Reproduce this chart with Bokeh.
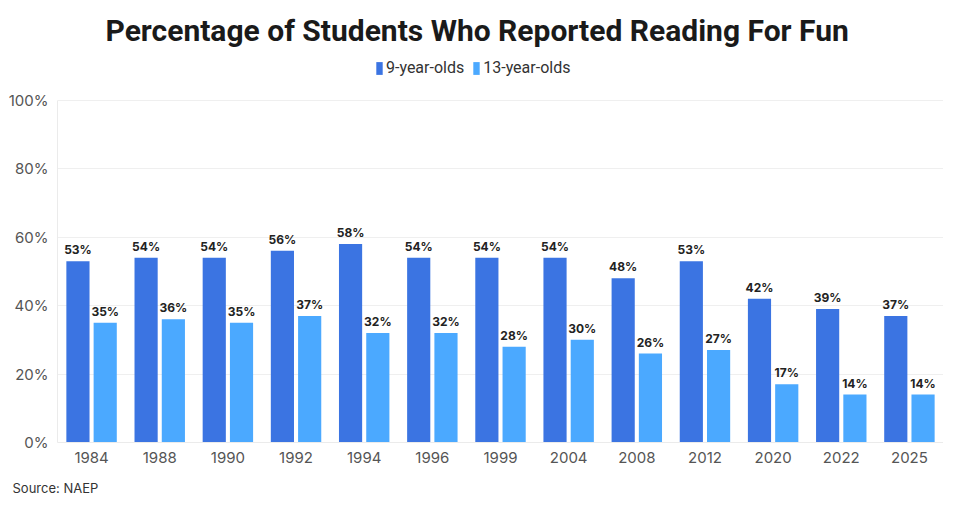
from bokeh.plotting import figure
from bokeh.models import ColumnDataSource, Legend, LegendItem, FactorRange, Range1d, NumeralTickFormatter, FixedTicker, Title
from bokeh.transform import dodge
from bokeh.core.properties import value
from bokeh.embed import file_html
from bokeh.resources import INLINE

years = ["1984", "1988", "1990", "1992", "1994", "1996", "1999", "2004", "2008", "2012", "2020", "2022", "2025"]
age9 = [53, 54, 54, 56, 58, 54, 54, 54, 48, 53, 42, 39, 37]
age13 = [35, 36, 35, 37, 32, 32, 28, 30, 26, 27, 17, 14, 14]
y_ticks = [0, 20, 40, 60, 80, 100]

title_text = "Percentage of Students Who Reported Reading For Fun"
source_text = "Source: NAEP"
series_names = ["9-year-olds", "13-year-olds"]
c9 = "#3B74E2"
c13 = "#4BA9FF"

src = ColumnDataSource(dict(
    years=years, age9=age9, age13=age13,
    lab9=[f"{v}%" for v in age9], lab13=[f"{v}%" for v in age13],
))

# y range extends above 100% to leave room for the legend inside the frame
p = figure(x_range=FactorRange(*years, range_padding=0), y_range=Range1d(0, 112.8),
           width=943, height=510, output_backend="svg", toolbar_location=None,
           min_border_left=57, min_border_right=0, min_border_bottom=68, min_border_top=56)

r9 = p.vbar(x=dodge("years", -0.2, range=p.x_range), top="age9", width=0.34, source=src,
            color=c9, line_color=None)
r13 = p.vbar(x=dodge("years", 0.2, range=p.x_range), top="age13", width=0.34, source=src,
             color=c13, line_color=None)

lab_font = value("Inter")
p.text(x=dodge("years", -0.2, range=p.x_range), y="age9", text="lab9", source=src,
       text_align="center", text_baseline="bottom", y_offset=-4,
       text_font=lab_font, text_font_size="12px", text_font_style="bold", text_color="#222222")
p.text(x=dodge("years", 0.2, range=p.x_range), y="age13", text="lab13", source=src,
       text_align="center", text_baseline="bottom", y_offset=-4,
       text_font=lab_font, text_font_size="12px", text_font_style="bold", text_color="#222222")

p.yaxis.ticker = FixedTicker(ticks=y_ticks)
p.yaxis.formatter = NumeralTickFormatter(format="0")
p.yaxis.major_label_overrides = {t: f"{t}%" for t in y_ticks}
p.yaxis.bounds = (0, 100)
for ax in (p.xaxis, p.yaxis):
    ax.major_tick_line_color = None
    ax.minor_tick_line_color = None
    ax.major_tick_out = 0
    ax.major_tick_in = 0
    ax.minor_tick_out = 0
    ax.axis_line_color = "#EBEBEB"
    ax.major_label_text_font = "Inter"
    ax.major_label_text_font_size = "15px"
    ax.major_label_text_color = "#555555"
p.yaxis.major_label_standoff = 9
p.xaxis.major_label_standoff = 9

p.xgrid.grid_line_color = None
p.ygrid.grid_line_color = "#EFEFEF"
p.outline_line_color = None

legend = Legend(items=[LegendItem(label=series_names[0], renderers=[r9]),
                       LegendItem(label=series_names[1], renderers=[r13])],
                orientation="horizontal", location=(318, 365),
                label_text_font="Roboto",
                label_text_font_size="16px", label_text_color="#333333",
                glyph_width=8, glyph_height=16, label_standoff=3, spacing=8,
                padding=0, margin=0, border_line_color=None, background_fill_alpha=0)
p.add_layout(legend, "center")

p.title = Title(text=title_text, align="left", vertical_align="top",
                text_font="Roboto",
                text_font_size="30px", text_font_style="bold", text_color="#1A1A1A",
                offset=48, standoff=14)

p.add_layout(Title(text=source_text, align="left", text_font="Inter", text_font_size="13px",
                   text_font_style="normal", text_color="#333333", offset=-45, standoff=25), "below")

open("out.html", "w").write(file_html(p, INLINE))
